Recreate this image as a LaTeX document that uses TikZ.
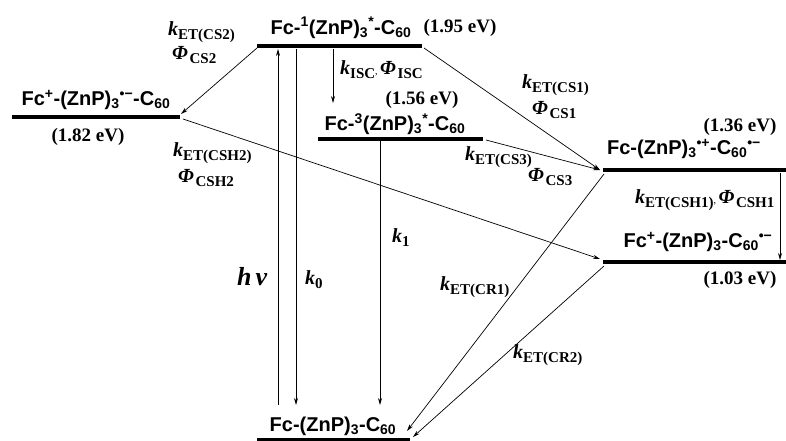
\documentclass[tikz,border=0pt]{standalone}
\usepackage{fontspec}
\setmainfont{Liberation Serif}
\setsansfont{Liberation Sans}
\usetikzlibrary{arrows.meta,calc}

% rate constant and quantum yield labels
\newcommand{\rk}[1]{{\fontsize{20}{20}\selectfont\bfseries\itshape k}{\fontsize{15}{15}\selectfont\bfseries\raisebox{-4pt}{#1}}}
\newcommand{\rphi}[1]{{\fontsize{20}{20}\selectfont\bfseries\itshape Φ}\,{\fontsize{15}{15}\selectfont\bfseries\raisebox{-4pt}{#1}}}

\begin{document}
\begin{tikzpicture}[
  x=1pt, y=-1pt,
  level/.style={line width=3.5pt},
  trans/.style={-{Stealth[length=7pt,width=4pt]}, line width=0.7pt},
  mol/.style={font=\fontsize{20}{20}\selectfont\sffamily\bfseries, inner sep=0pt},
  ev/.style={font=\fontsize{19}{19}\selectfont\bfseries, inner sep=0pt},
  rate/.style={inner sep=0pt, anchor=west},
]
\useasboundingbox (0,0) rectangle (786,441);

% level end points
\coordinate (S1l) at (257,46);   \coordinate (S1r) at (422,46);
\coordinate (CS2l) at (12,117);  \coordinate (CS2r) at (180,117);
\coordinate (T1l) at (318,139);  \coordinate (T1r) at (483,139);
\coordinate (CS1l) at (603,170); \coordinate (CS1r) at (786,170);
\coordinate (CSH1l) at (603,262);\coordinate (CSH1r) at (786,262);
\coordinate (GSl) at (257,440);  \coordinate (GSr) at (410,440);

% energy levels
\draw[level] (S1l) -- (S1r);
\draw[level] (CS2l) -- (CS2r);
\draw[level] (T1l) -- (T1r);
\draw[level] (CS1l) -- (CS1r);
\draw[level] (CSH1l) -- (CSH1r);
\draw[level] (GSl) -- (GSr);

% ends of the vertical arrows
\coordinate (hvB) at (278,405);  \coordinate (hvT) at (278,49);
\coordinate (k0T) at (296,49);   \coordinate (k0B) at (296,405);
\coordinate (iscT) at (333,49);  \coordinate (iscB) at (333,103);
\coordinate (k1T) at (380,141);  \coordinate (k1B) at (380,405);
\coordinate (cshT) at (780,173); \coordinate (cshB) at (780,260);

% vertical transitions
\draw[trans] (hvB) -- (hvT);
\draw[trans] (k0T) -- (k0B);
\draw[trans] (iscT) -- (iscB);
\draw[trans] (k1T) -- (k1B);
\draw[trans] (cshT) -- (cshB);

% electron transfer steps
\draw[trans] ($(S1l)+(0,2)$) -- ($(CS2r)+(1,-3)$);
\draw[trans] ($(S1r)+(2,2)$) -- ($(CS1l)+(-3,0)$);
\draw[trans] ($(T1r)+(3,1)$) -- ($(CS1l)+(-3,0)$);
\draw[trans] ($(CS2r)+(3,2)$) -- ($(CSH1l)+(-3,-3)$);
\draw[trans] ($(CS1l)+(1,4)$) -- ($(GSr)+(-3,-9)$);
\draw[trans] ($(CSH1l)+(1,4)$) -- ($(GSr)+(3,-3)$);

% state labels
\node[mol] (S1lab) at (341,28) {Fc-\textsuperscript{1}(ZnP)\textsubscript{3}\textsuperscript{*}-C\textsubscript{60}};
\node[ev] (S1ev) at (460,28) {(1.95 eV)};
\node[mol] (CS2lab) at (96,100) {Fc\textsuperscript{+}-(ZnP)\textsubscript{3}\textsuperscript{•−}-C\textsubscript{60}};
\node[ev] (CS2ev) at (88,137) {(1.82 eV)};
\node[ev] (T1ev) at (422,100) {(1.56 eV)};
\node[mol] (T1lab) at (395,124) {Fc-\textsuperscript{3}(ZnP)\textsubscript{3}\textsuperscript{*}-C\textsubscript{60}};
\node[ev] (CS1ev) at (740,127) {(1.36 eV)};
\node[mol] (CS1lab) at (684,149) {Fc-(ZnP)\textsubscript{3}\textsuperscript{•+}-C\textsubscript{60}\textsuperscript{•−}};
\node[mol] (CSH1lab) at (698,242) {Fc\textsuperscript{+}-(ZnP)\textsubscript{3}-C\textsubscript{60}\textsuperscript{•−}};
\node[ev] (CSH1ev) at (740,280) {(1.03 eV)};
\node[mol] (GSlab) at (333,426) {Fc-(ZnP)\textsubscript{3}-C\textsubscript{60}};

% rate labels
\node[rate] (kcs2) at (168,32) {\rk{ET(CS2)}};
\node[rate] (pcs2) at (172,55) {\rphi{CS2}};
\node[rate] (kisc) at (340,70) {\rk{ISC}, \rphi{ISC}};
\node[rate] (kcs1) at (522,85) {\rk{ET(CS1)}};
\node[rate] (pcs1) at (532,110) {\rphi{CS1}};
\node[rate] (kcs3) at (465,157) {\rk{ET(CS3)}};
\node[rate] (pcs3) at (528,177) {\rphi{CS3}};
\node[rate] (kcsh1) at (635,200) {\rk{ET(CSH1)}, \rphi{CSH1}};
\node[rate] (kcsh2) at (173,153) {\rk{ET(CSH2)}};
\node[rate] (pcsh2) at (178,178) {\rphi{CSH2}};
\node[rate] (hv) at (237,277) {\fontsize{26}{26}\selectfont\bfseries\itshape h\kern4ptν};
\node[rate] (k0) at (305,280) {\rk{0}};
\node[rate] (k1) at (392,238) {\rk{1}};
\node[rate] (kcr1) at (440,287) {\rk{ET(CR1)}};
\node[rate] (kcr2) at (513,355) {\rk{ET(CR2)}};

\end{tikzpicture}
\end{document}
